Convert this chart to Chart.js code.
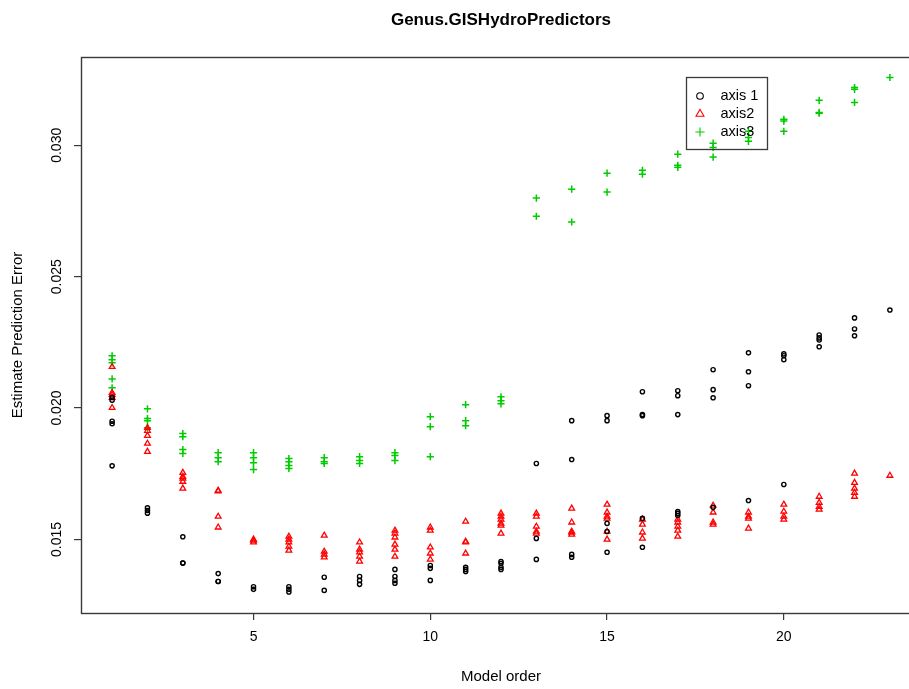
<!DOCTYPE html>
<html>
<head>
<meta charset="utf-8">
<title>Genus.GISHydroPredictors</title>
<script src="https://cdn.jsdelivr.net/npm/chart.js@4/dist/chart.umd.min.js"></script>
<style>
  html, body { margin: 0; padding: 0; background: #fff; overflow: hidden; }
  #wrap { width: 1002px; height: 689px; }
</style>
</head>
<body>
<div id="wrap"><canvas id="c" width="1002" height="689"></canvas></div>
<script>
// Model orders on the horizontal axis
const modelOrders = [1,2,3,4,5,6,7,8,9,10,11,12,13,14,15,16,17,18,19,20,21,22,23];

// Estimated prediction error per model order, one inner list per order
const axis1Values = [
  [0.0204, 0.0203, 0.0195, 0.0194, 0.0178],
  [0.0162, 0.0161, 0.0160],
  [0.0151, 0.0141, 0.0141],
  [0.0137, 0.0134, 0.0134],
  [0.0132, 0.0131],
  [0.0132, 0.0131, 0.0130],
  [0.01356, 0.01306],
  [0.01359, 0.01344, 0.01329],
  [0.01386, 0.01359, 0.01344, 0.01333],
  [0.01401, 0.0139, 0.01344],
  [0.01394, 0.01386, 0.01378],
  [0.01416, 0.01409, 0.01394, 0.01386],
  [0.01789, 0.01504, 0.01424],
  [0.01952, 0.01804, 0.01443, 0.01432],
  [0.01971, 0.01952, 0.01561, 0.0153, 0.01451],
  [0.02062, 0.01975, 0.01971, 0.0158, 0.0147],
  [0.02066, 0.02047, 0.01975, 0.01606, 0.01599, 0.01591],
  [0.02146, 0.0207, 0.02039, 0.01622],
  [0.0221, 0.02138, 0.02085, 0.01648],
  [0.02206, 0.02199, 0.02184, 0.01709],
  [0.02278, 0.02267, 0.02259, 0.02233],
  [0.02343, 0.02301, 0.02275],
  [0.02373]
];

const axis2Values = [
  [0.02157, 0.02058, 0.02051, 0.02039, 0.02001],
  [0.01925, 0.01914, 0.01895, 0.01865, 0.01834],
  [0.01754, 0.01739, 0.01732, 0.0172, 0.01694],
  [0.01686, 0.01684, 0.01587, 0.01546],
  [0.0150, 0.01496, 0.01489],
  [0.01511, 0.0150, 0.01489, 0.01473, 0.01458],
  [0.01515, 0.01454, 0.01443, 0.01432],
  [0.01489, 0.01462, 0.01451, 0.01435, 0.01416],
  [0.01534, 0.01523, 0.01508, 0.01481, 0.01462, 0.01435],
  [0.01546, 0.01534, 0.0147, 0.01447, 0.01424],
  [0.01568, 0.01492, 0.01489, 0.01447],
  [0.01599, 0.01587, 0.01576, 0.01561, 0.01553, 0.01523],
  [0.01599, 0.01587, 0.01549, 0.0153, 0.01523],
  [0.01618, 0.01565, 0.0153, 0.01527, 0.01519],
  [0.01633, 0.01603, 0.01587, 0.0158, 0.0153, 0.0150],
  [0.01576, 0.01557, 0.01527, 0.01504],
  [0.01576, 0.01565, 0.01549, 0.01534, 0.01511],
  [0.01629, 0.01603, 0.01565, 0.01557],
  [0.01603, 0.01587, 0.0158, 0.01542],
  [0.01633, 0.01606, 0.01587, 0.01576],
  [0.01663, 0.0164, 0.01625, 0.01614],
  [0.01751, 0.01716, 0.01694, 0.01678, 0.01663],
  [0.01743]
];

const axis3Values = [
  [0.02199, 0.02184, 0.02172, 0.02111, 0.02077],
  [0.01997, 0.0196, 0.01952, 0.01925],
  [0.01903, 0.01891, 0.01842, 0.01827],
  [0.0183, 0.01811, 0.01796],
  [0.0183, 0.01811, 0.01792, 0.01766],
  [0.01808, 0.01796, 0.01781, 0.0177],
  [0.01811, 0.01796, 0.01789],
  [0.01815, 0.018, 0.01789],
  [0.0183, 0.01819, 0.018],
  [0.01967, 0.01929, 0.01815],
  [0.02013, 0.01952, 0.01933],
  [0.02043, 0.02028, 0.02016],
  [0.02799, 0.0273],
  [0.02833, 0.02708],
  [0.02894, 0.02822],
  [0.02905, 0.0289],
  [0.02966, 0.02924, 0.02916],
  [0.03008, 0.02992, 0.02955],
  [0.03053, 0.0303, 0.03015],
  [0.03099, 0.03092, 0.03053],
  [0.03171, 0.03125, 0.03122],
  [0.0322, 0.03213, 0.03163],
  [0.03258]
];

const seriesNames = ['axis 1', 'axis2', 'axis3'];
const xTicks = [5, 10, 15, 20];
const yTicks = [0.015, 0.020, 0.025, 0.030];

const FONT = '"Liberation Sans", Arial, Helvetica, sans-serif';
const FRAME = '#3a3a3a';

function toPoints(values) {
  const pts = [];
  values.forEach((list, i) => list.forEach(v => pts.push({ x: modelOrders[i], y: v })));
  return pts;
}

// Box, rotated y labels, titles and the legend
const framePlugin = {
  id: 'frame',
  afterDraw(chart) {
    const { ctx, chartArea: a } = chart;
    const ys = chart.scales.y;
    ctx.save();
    ctx.strokeStyle = FRAME;
    ctx.lineWidth = 1.4;
    ctx.strokeRect(a.left + 0.5, a.top + 0.5, a.right - a.left, a.bottom - a.top);

    // y tick labels, rotated like the axis title
    ctx.fillStyle = '#000';
    ctx.font = '14px ' + FONT;
    ctx.textAlign = 'center';
    ctx.textBaseline = 'middle';
    ys.ticks.forEach(t => {
      const py = ys.getPixelForValue(t.value);
      ctx.save();
      ctx.translate(57, py);
      ctx.rotate(-Math.PI / 2);
      ctx.fillText(t.value.toFixed(3), 0, 0);
      ctx.restore();
    });

    // y axis title
    ctx.save();
    ctx.font = '15px ' + FONT;
    ctx.translate(18, (a.top + a.bottom) / 2);
    ctx.rotate(-Math.PI / 2);
    ctx.fillText('Estimate Prediction Error', 0, 0);
    ctx.restore();

    // main title, centred over the plotting region
    ctx.font = 'bold 17px ' + FONT;
    ctx.fillText('Genus.GISHydroPredictors', (a.left + a.right) / 2, 20);

    // legend (transparent background, points stay visible through it)
    const lx = 686.5, ly = 77.5, lw = 81, lh = 72;
    ctx.strokeStyle = FRAME;
    ctx.lineWidth = 1.3;
    ctx.strokeRect(lx, ly, lw, lh);
    const legendRadius = [3.3, 4.6, 4.6];
    chart.data.datasets.forEach((ds, i) => {
      const cy = 96 + i * 18;
      ctx.strokeStyle = ds.borderColor;
      ctx.fillStyle = 'rgba(0,0,0,0)';
      ctx.lineWidth = 1.1;
      Chart.helpers.drawPoint(ctx, { pointStyle: ds.pointStyle, radius: legendRadius[i], borderWidth: 1.1, rotation: 0 }, 700, cy);
      ctx.fillStyle = '#000';
      ctx.font = '14.5px ' + FONT;
      ctx.textAlign = 'left';
      ctx.textBaseline = 'middle';
      ctx.fillText(ds.label, 720.5, cy);
    });
    ctx.restore();
  }
};

const tickGrid = { drawOnChartArea: false, drawTicks: true, tickLength: 7, color: FRAME, lineWidth: 1.2 };

new Chart(document.getElementById('c'), {
  type: 'scatter',
  data: {
    datasets: [
      { label: seriesNames[0], data: toPoints(axis1Values), pointStyle: 'circle', pointRadius: 2.1,
        borderColor: '#000000', backgroundColor: 'rgba(0,0,0,0)', borderWidth: 1.4 },
      { label: seriesNames[1], data: toPoints(axis2Values), pointStyle: 'triangle', pointRadius: 3.3,
        borderColor: '#ff0000', backgroundColor: 'rgba(0,0,0,0)', borderWidth: 1.3 },
      { label: seriesNames[2], data: toPoints(axis3Values), pointStyle: 'cross', pointRadius: 3.6,
        borderColor: '#00cd00', backgroundColor: 'rgba(0,0,0,0)', borderWidth: 1.5 }
    ]
  },
  options: {
    responsive: false,
    animation: false,
    devicePixelRatio: 1,
    layout: { padding: { left: 0, right: 81, top: 57, bottom: 0 } },
    plugins: { legend: { display: false }, title: { display: false }, tooltip: { enabled: false } },
    scales: {
      x: {
        type: 'linear', min: 0.12, max: 23.88,
        afterBuildTicks: s => { s.ticks = xTicks.map(v => ({ value: v })); },
        afterFit: s => { s.height = 76; },
        grid: tickGrid,
        border: { display: false },
        ticks: { color: '#000', font: { size: 14, family: FONT }, padding: 9, maxRotation: 0,
                 callback: v => String(v) },
        title: { display: true, text: 'Model order', color: '#000',
                 font: { size: 15, family: FONT }, padding: { top: 0, bottom: 3 } }
      },
      y: {
        type: 'linear', min: 0.0122, max: 0.03336,
        afterBuildTicks: s => { s.ticks = yTicks.map(v => ({ value: v })); },
        afterFit: s => { s.width = 81; },
        grid: tickGrid,
        border: { display: false },
        ticks: { display: false }
      }
    }
  },
  plugins: [framePlugin]
});
</script>
</body>
</html>
